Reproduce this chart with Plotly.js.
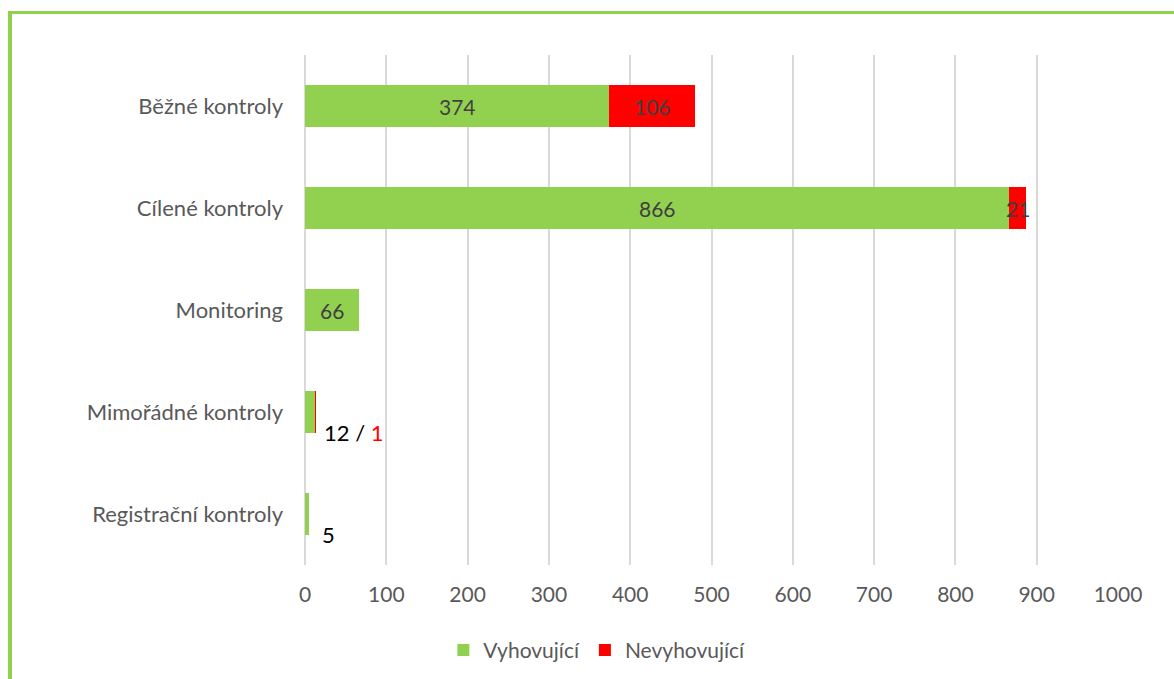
<!DOCTYPE html>
<html>
<head>
<meta charset="utf-8">
<script src="https://cdn.plot.ly/plotly-3.0.1.min.js"></script>
<style>
html,body{margin:0;padding:0;background:#fff;}
#wrap{position:relative;width:1174px;height:679px;overflow:hidden;}
#chart{position:absolute;left:0;top:0;width:1174px;height:679px;}
#frame{position:absolute;left:8px;top:11px;width:1200px;height:700px;border-left:4px solid #92d050;border-top:3px solid #92d050;pointer-events:none;}
</style>
</head>
<body>
<div id="wrap"><div id="chart"></div><div id="frame"></div></div>
<script>
const categories = ["Běžné kontroly", "Cílené kontroly", "Monitoring", "Mimořádné kontroly", "Registrační kontroly"];
const vyhovujici = [374, 866, 66, 12, 5];
const nevyhovujici = [106, 21, 0, 1, 0];
const xTicks = [0, 100, 200, 300, 400, 500, 600, 700, 800, 900, 1000];

const font = "Lato, Open Sans, sans-serif";
const green = "#92d050", red = "#ff0000";
const fs = 21;

const insideIdx = [0, 1, 2];

const traces = [
  {
    type: "bar", orientation: "h", name: "Vyhovující",
    y: categories, x: vyhovujici,
    marker: {color: green, line: {width: 0}},
    width: 0.41, hoverinfo: "x+y"
  },
  {
    type: "bar", orientation: "h", name: "Nevyhovující",
    y: categories, x: nevyhovujici,
    marker: {color: red, line: {width: 0}},
    width: 0.41, hoverinfo: "x+y"
  }
];

const annotations = [];
insideIdx.forEach(i => {
  annotations.push({x: vyhovujici[i] / 2, y: categories[i], text: String(vyhovujici[i]),
    showarrow: false, font: {family: font, size: fs, color: "#404040"}, xanchor: "center", yanchor: "middle"});
  if (nevyhovujici[i] > 0) {
    annotations.push({x: vyhovujici[i] + nevyhovujici[i] / 2, y: categories[i], text: String(nevyhovujici[i]),
      showarrow: false, font: {family: font, size: fs, color: "#404040"}, xanchor: "center", yanchor: "middle"});
  }
});
annotations.push({x: vyhovujici[3] + nevyhovujici[3], y: categories[3],
  text: vyhovujici[3] + ' / <span style="color:#ff0000">' + nevyhovujici[3] + '</span>',
  showarrow: false, font: {family: font, size: 22, color: "#000"}, xanchor: "left", yanchor: "middle",
  xshift: 6, yshift: -20});
annotations.push({x: vyhovujici[4], y: categories[4], text: String(vyhovujici[4]),
  showarrow: false, font: {family: font, size: 22, color: "#000"}, xanchor: "left", yanchor: "middle",
  xshift: 11, yshift: -20});

const layout = {
  width: 1174, height: 679,
  margin: {l: 305, r: 56, t: 55, b: 114, autoexpand: false},
  paper_bgcolor: "#fff", plot_bgcolor: "#fff",
  barmode: "stack",
  showlegend: true,
  legend: {orientation: "h", x: 0.359, xanchor: "center", y: -0.127, yanchor: "top",
    font: {family: font, size: fs, color: "#595959"}, itemwidth: 30, traceorder: "normal"},
  xaxis: {range: [0, 1000], tickvals: xTicks, ticktext: xTicks.map(String),
    showgrid: true, gridcolor: "#d9d9d9", gridwidth: 2, zeroline: true, zerolinecolor: "#d9d9d9", zerolinewidth: 2,
    showline: false, ticks: "", tickfont: {family: font, size: fs, color: "#595959"}, ticklabelstandoff: 15, fixedrange: true},
  yaxis: {categoryorder: "array", categoryarray: categories, autorange: "reversed",
    showgrid: false, zeroline: false, showline: false, ticks: "",
    tickfont: {family: font, size: 22, color: "#595959"}, ticklabelstandoff: 21, fixedrange: true},
  annotations: annotations,
  font: {family: font}
};

Plotly.newPlot("chart", traces, layout, {displayModeBar: false, staticPlot: true});
</script>
</body>
</html>
